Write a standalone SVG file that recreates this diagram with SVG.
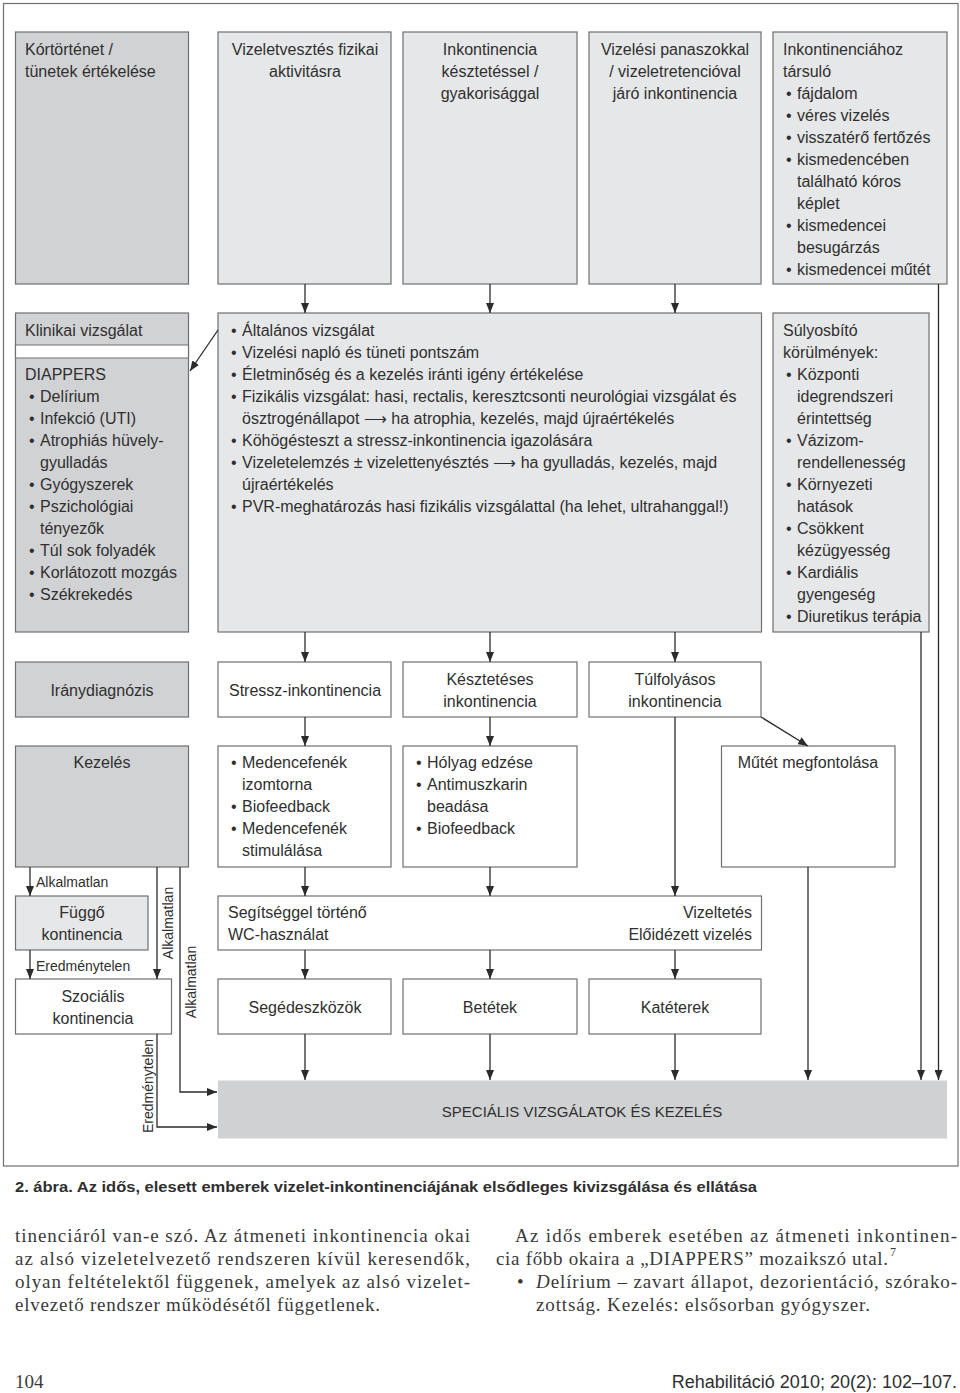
<svg xmlns="http://www.w3.org/2000/svg" width="960" height="1393" viewBox="0 0 960 1393">
<defs>
<style>
.t{font-family:"Liberation Sans",Arial,sans-serif;font-size:16px;fill:#2f2f2f}
.c{text-anchor:middle}
.r{text-anchor:end}
.lb{font-family:"Liberation Sans",Arial,sans-serif;font-size:14px;fill:#2f2f2f}
.dk{fill:#d1d2d4;stroke:#6f7072;stroke-width:1.2}
.lt{fill:#e6e7e8;stroke:#6f7072;stroke-width:1.2}
.wh{fill:#ffffff;stroke:#6f7072;stroke-width:1.2}
.ln{fill:none;stroke:#2b2b2b;stroke-width:1.3}
.body{font-family:"Liberation Serif","Times New Roman",serif;font-size:19px;fill:#3a3a3a}
</style>
<marker id="ah" viewBox="0 0 10 8" refX="10" refY="4" markerWidth="10" markerHeight="8" markerUnits="userSpaceOnUse" orient="auto">
<path d="M0,0 L10,4 L0,8 z" fill="#2b2b2b"/>
</marker>
</defs>
<rect x="3.5" y="3.5" width="954.5" height="1162.5" fill="#ffffff" stroke="#6f7072" stroke-width="1.2"/>

<g id="n-kortortenet">
<rect class="dk" x="15.5" y="32" width="173" height="252"/>
<text class="t"><tspan x="25" y="55">Kórtörténet /</tspan><tspan x="25" y="77">tünetek értékelése</tspan></text>
</g>
<g id="n-vizeletvesztes">
<rect class="lt" x="218" y="32" width="173" height="252"/>
<text class="t c"><tspan x="305" y="55">Vizeletvesztés fizikai</tspan><tspan x="305" y="77">aktivitásra</tspan></text>
</g>
<g id="n-inkontinencia">
<rect class="lt" x="403" y="32" width="174" height="252"/>
<text class="t c"><tspan x="490" y="55">Inkontinencia</tspan><tspan x="490" y="77">késztetéssel /</tspan><tspan x="490" y="99">gyakorisággal</tspan></text>
</g>
<g id="n-vizelesi">
<rect class="lt" x="589" y="32" width="172" height="252"/>
<text class="t c"><tspan x="675" y="55">Vizelési panaszokkal</tspan><tspan x="675" y="77">/ vizeletretencióval</tspan><tspan x="675" y="99">járó inkontinencia</tspan></text>
</g>
<g id="n-tarsulo">
<rect class="lt" x="773" y="32" width="174" height="252"/>
<text class="t"><tspan x="783" y="55">Inkontinenciához</tspan><tspan x="783" y="77">társuló</tspan>
<tspan x="786" y="99">•</tspan><tspan x="797" y="99">fájdalom</tspan>
<tspan x="786" y="121">•</tspan><tspan x="797" y="121">véres vizelés</tspan>
<tspan x="786" y="143">•</tspan><tspan x="797" y="143">visszatérő fertőzés</tspan>
<tspan x="786" y="165">•</tspan><tspan x="797" y="165">kismedencében</tspan>
<tspan x="797" y="187">található kóros</tspan>
<tspan x="797" y="209">képlet</tspan>
<tspan x="786" y="231">•</tspan><tspan x="797" y="231">kismedencei</tspan>
<tspan x="797" y="253">besugárzás</tspan>
<tspan x="786" y="275">•</tspan><tspan x="797" y="275">kismedencei műtét</tspan></text>
</g>

<g id="n-klinikai">
<rect class="dk" x="15.5" y="313" width="173" height="319"/>
<rect x="15.5" y="345" width="173" height="13" fill="#ffffff" stroke="none"/>
<line x1="15.5" y1="345" x2="188.5" y2="345" stroke="#6f7072" stroke-width="1.2"/>
<line x1="15.5" y1="358" x2="188.5" y2="358" stroke="#6f7072" stroke-width="1.2"/>
<line x1="15.5" y1="345" x2="15.5" y2="358" stroke="#6f7072" stroke-width="1.2"/>
<line x1="188.5" y1="345" x2="188.5" y2="358" stroke="#6f7072" stroke-width="1.2"/>
<text class="t"><tspan x="25" y="336">Klinikai vizsgálat</tspan><tspan x="25" y="380">DIAPPERS</tspan>
<tspan x="29" y="402">•</tspan><tspan x="40" y="402">Delírium</tspan>
<tspan x="29" y="424">•</tspan><tspan x="40" y="424">Infekció (UTI)</tspan>
<tspan x="29" y="446">•</tspan><tspan x="40" y="446">Atrophiás hüvely-</tspan>
<tspan x="40" y="468">gyulladás</tspan>
<tspan x="29" y="490">•</tspan><tspan x="40" y="490">Gyógyszerek</tspan>
<tspan x="29" y="512">•</tspan><tspan x="40" y="512">Pszichológiai</tspan>
<tspan x="40" y="534">tényezők</tspan>
<tspan x="29" y="556">•</tspan><tspan x="40" y="556">Túl sok folyadék</tspan>
<tspan x="29" y="578">•</tspan><tspan x="40" y="578">Korlátozott mozgás</tspan>
<tspan x="29" y="600">•</tspan><tspan x="40" y="600">Székrekedés</tspan></text>
</g>
<g id="n-altalanos">
<rect class="lt" x="218" y="313" width="543.5" height="319"/>
<text class="t">
<tspan x="231" y="336">•</tspan><tspan x="242" y="336">Általános vizsgálat</tspan>
<tspan x="231" y="358">•</tspan><tspan x="242" y="358">Vizelési napló és tüneti pontszám</tspan>
<tspan x="231" y="380">•</tspan><tspan x="242" y="380">Életminőség és a kezelés iránti igény értékelése</tspan>
<tspan x="231" y="402">•</tspan><tspan x="242" y="402">Fizikális vizsgálat: hasi, rectalis, keresztcsonti neurológiai vizsgálat és</tspan>
<tspan x="242" y="424">ösztrogénállapot ⟶ ha atrophia, kezelés, majd újraértékelés</tspan>
<tspan x="231" y="446">•</tspan><tspan x="242" y="446">Köhögésteszt a stressz-inkontinencia igazolására</tspan>
<tspan x="231" y="468">•</tspan><tspan x="242" y="468">Vizeletelemzés ± vizelettenyésztés ⟶ ha gyulladás, kezelés, majd</tspan>
<tspan x="242" y="490">újraértékelés</tspan>
<tspan x="231" y="512">•</tspan><tspan x="242" y="512">PVR-meghatározás hasi fizikális vizsgálattal (ha lehet, ultrahanggal!)</tspan></text>
</g>
<g id="n-sulyosbito">
<rect class="lt" x="773" y="313" width="156" height="319"/>
<text class="t"><tspan x="783" y="336">Súlyosbító</tspan><tspan x="783" y="358">körülmények:</tspan>
<tspan x="786" y="380">•</tspan><tspan x="797" y="380">Központi</tspan>
<tspan x="797" y="402">idegrendszeri</tspan>
<tspan x="797" y="424">érintettség</tspan>
<tspan x="786" y="446">•</tspan><tspan x="797" y="446">Vázizom-</tspan>
<tspan x="797" y="468">rendellenesség</tspan>
<tspan x="786" y="490">•</tspan><tspan x="797" y="490">Környezeti</tspan>
<tspan x="797" y="512">hatások</tspan>
<tspan x="786" y="534">•</tspan><tspan x="797" y="534">Csökkent</tspan>
<tspan x="797" y="556">kézügyesség</tspan>
<tspan x="786" y="578">•</tspan><tspan x="797" y="578">Kardiális</tspan>
<tspan x="797" y="600">gyengeség</tspan>
<tspan x="786" y="622">•</tspan><tspan x="797" y="622">Diuretikus terápia</tspan></text>
</g>

<g id="n-iranydiagnozis">
<rect class="dk" x="15.5" y="662" width="173" height="55"/>
<text class="t c" x="102" y="696">Iránydiagnózis</text>
</g>
<g id="n-stressz">
<rect class="wh" x="218" y="662" width="173" height="55"/>
<text class="t c" x="305" y="696">Stressz-inkontinencia</text>
</g>
<g id="n-keszteteses">
<rect class="wh" x="403" y="662" width="174" height="55"/>
<text class="t c"><tspan x="490" y="685">Késztetéses</tspan><tspan x="490" y="707">inkontinencia</tspan></text>
</g>
<g id="n-tulfolyasos">
<rect class="wh" x="589" y="662" width="172" height="55"/>
<text class="t c"><tspan x="675" y="685">Túlfolyásos</tspan><tspan x="675" y="707">inkontinencia</tspan></text>
</g>

<g id="n-kezeles">
<rect class="dk" x="15.5" y="746" width="173" height="121"/>
<text class="t c" x="102" y="768">Kezelés</text>
</g>
<g id="n-medencefenek">
<rect class="wh" x="218" y="746" width="173" height="121"/>
<text class="t">
<tspan x="231" y="768">•</tspan><tspan x="242" y="768">Medencefenék</tspan>
<tspan x="242" y="790">izomtorna</tspan>
<tspan x="231" y="812">•</tspan><tspan x="242" y="812">Biofeedback</tspan>
<tspan x="231" y="834">•</tspan><tspan x="242" y="834">Medencefenék</tspan>
<tspan x="242" y="856">stimulálása</tspan></text>
</g>
<g id="n-holyag">
<rect class="wh" x="403" y="746" width="174" height="121"/>
<text class="t">
<tspan x="416" y="768">•</tspan><tspan x="427" y="768">Hólyag edzése</tspan>
<tspan x="416" y="790">•</tspan><tspan x="427" y="790">Antimuszkarin</tspan>
<tspan x="427" y="812">beadása</tspan>
<tspan x="416" y="834">•</tspan><tspan x="427" y="834">Biofeedback</tspan></text>
</g>
<g id="n-mutet">
<rect class="wh" x="721.5" y="746" width="173.5" height="121"/>
<text class="t c" x="808" y="768">Műtét megfontolása</text>
</g>

<g id="n-fuggo">
<rect class="lt" x="15.5" y="896" width="132.5" height="54"/>
<text class="t c"><tspan x="82" y="918">Függő</tspan><tspan x="82" y="940">kontinencia</tspan></text>
</g>
<g id="n-segitseggel">
<rect class="wh" x="218" y="896" width="543.5" height="54"/>
<text class="t"><tspan x="228" y="918">Segítséggel történő</tspan><tspan x="228" y="940">WC-használat</tspan></text>
<text class="t r"><tspan x="752" y="918">Vizeltetés</tspan><tspan x="752" y="940">Előidézett vizelés</tspan></text>
</g>
<g id="n-szocialis">
<rect class="wh" x="15.5" y="979" width="156" height="55"/>
<text class="t c"><tspan x="93" y="1002">Szociális</tspan><tspan x="93" y="1024">kontinencia</tspan></text>
</g>
<g id="n-segedeszkozok">
<rect class="wh" x="218" y="979" width="173" height="55"/>
<text class="t c" x="305" y="1013">Segédeszközök</text>
</g>
<g id="n-betetek">
<rect class="wh" x="403" y="979" width="174" height="55"/>
<text class="t c" x="490" y="1013">Betétek</text>
</g>
<g id="n-kateterek">
<rect class="wh" x="589" y="979" width="172" height="55"/>
<text class="t c" x="675" y="1013">Katéterek</text>
</g>
<g id="n-specialis">
<rect x="218" y="1080.5" width="729" height="58" fill="#d0d1d3"/>
<text class="t c" x="582" y="1117" style="font-size:15px">SPECIÁLIS VIZSGÁLATOK ÉS KEZELÉS</text>
</g>

<g id="connectors">
<path class="ln" marker-end="url(#ah)" d="M305,284 V313"/>
<path class="ln" marker-end="url(#ah)" d="M490,284 V313"/>
<path class="ln" marker-end="url(#ah)" d="M675,284 V313"/>
<path class="ln" marker-end="url(#ah)" d="M938.5,284 V1080"/>
<path class="ln" marker-end="url(#ah)" d="M218,330 L190,371"/>
<path class="ln" marker-end="url(#ah)" d="M305,632 V662"/>
<path class="ln" marker-end="url(#ah)" d="M490,632 V662"/>
<path class="ln" marker-end="url(#ah)" d="M675,632 V662"/>
<path class="ln" marker-end="url(#ah)" d="M921,632 V1080"/>
<path class="ln" marker-end="url(#ah)" d="M305,717 V746"/>
<path class="ln" marker-end="url(#ah)" d="M490,717 V746"/>
<path class="ln" marker-end="url(#ah)" d="M675,717 V896"/>
<path class="ln" marker-end="url(#ah)" d="M761,717 L808,746"/>
<path class="ln" marker-end="url(#ah)" d="M305,867 V896"/>
<path class="ln" marker-end="url(#ah)" d="M490,867 V896"/>
<path class="ln" marker-end="url(#ah)" d="M808,867 V1080"/>
<path class="ln" marker-end="url(#ah)" d="M305,950 V979"/>
<path class="ln" marker-end="url(#ah)" d="M490,950 V979"/>
<path class="ln" marker-end="url(#ah)" d="M675,950 V979"/>
<path class="ln" marker-end="url(#ah)" d="M305,1034 V1080"/>
<path class="ln" marker-end="url(#ah)" d="M490,1034 V1080"/>
<path class="ln" marker-end="url(#ah)" d="M675,1034 V1080"/>
<path class="ln" marker-end="url(#ah)" d="M30,867 V896"/>
<path class="ln" marker-end="url(#ah)" d="M30,950 V979"/>
<path class="ln" marker-end="url(#ah)" d="M157,867 V979"/>
<path class="ln" marker-end="url(#ah)" d="M180,867 V1092 H217"/>
<path class="ln" marker-end="url(#ah)" d="M157,1034 V1127 H217"/>
<text class="lb" x="36" y="887">Alkalmatlan</text>
<text class="lb" x="36" y="971">Eredménytelen</text>
<text class="lb" text-anchor="middle" transform="translate(172.5,923) rotate(-90)">Alkalmatlan</text>
<text class="lb" text-anchor="middle" transform="translate(196,982) rotate(-90)">Alkalmatlan</text>
<text class="lb" text-anchor="middle" transform="translate(152.5,1086) rotate(-90)">Eredménytelen</text>
</g>

<text x="15" y="1192" style="font-family:'Liberation Sans',Arial,sans-serif;font-size:15px;font-weight:bold;fill:#2f2f2f" textLength="742" lengthAdjust="spacingAndGlyphs">2. ábra. Az idős, elesett emberek vizelet-inkontinenciájának elsődleges kivizsgálása és ellátása</text>

<text class="body" x="15" y="1242" textLength="455" lengthAdjust="spacing">tinenciáról van-e szó. Az átmeneti inkontinencia okai</text>
<text class="body" x="15" y="1265" textLength="455" lengthAdjust="spacing">az alsó vizeletelvezető rendszeren kívül keresendők,</text>
<text class="body" x="15" y="1288" textLength="455" lengthAdjust="spacing">olyan feltételektől függenek, amelyek az alsó vizelet-</text>
<text class="body" x="15" y="1311" textLength="365" lengthAdjust="spacing">elvezető rendszer működésétől függetlenek.</text>
<text class="body" x="515" y="1242" textLength="442" lengthAdjust="spacing">Az idős emberek esetében az átmeneti inkontinen-</text>
<text class="body" x="496" y="1265" textLength="392" lengthAdjust="spacing">cia főbb okaira a „DIAPPERS” mozaikszó utal.</text>
<text class="body" x="890" y="1256" style="font-size:12px">7</text>
<text class="body" x="517" y="1288">•</text>
<text class="body" x="536" y="1288" textLength="421" lengthAdjust="spacing"><tspan font-style="italic">D</tspan>elírium – zavart állapot, dezorientáció, szórako-</text>
<text class="body" x="536" y="1311" textLength="334" lengthAdjust="spacing">zottság. Kezelés: elsősorban gyógyszer.</text>

<text x="15" y="1388" style="font-family:'Liberation Serif',serif;font-size:19px;fill:#3a3a3a">104</text>
<text x="957" y="1388" text-anchor="end" style="font-family:'Liberation Sans',Arial,sans-serif;font-size:18px;fill:#2f2f2f">Rehabilitáció 2010; 20(2): 102–107.</text>
</svg>
